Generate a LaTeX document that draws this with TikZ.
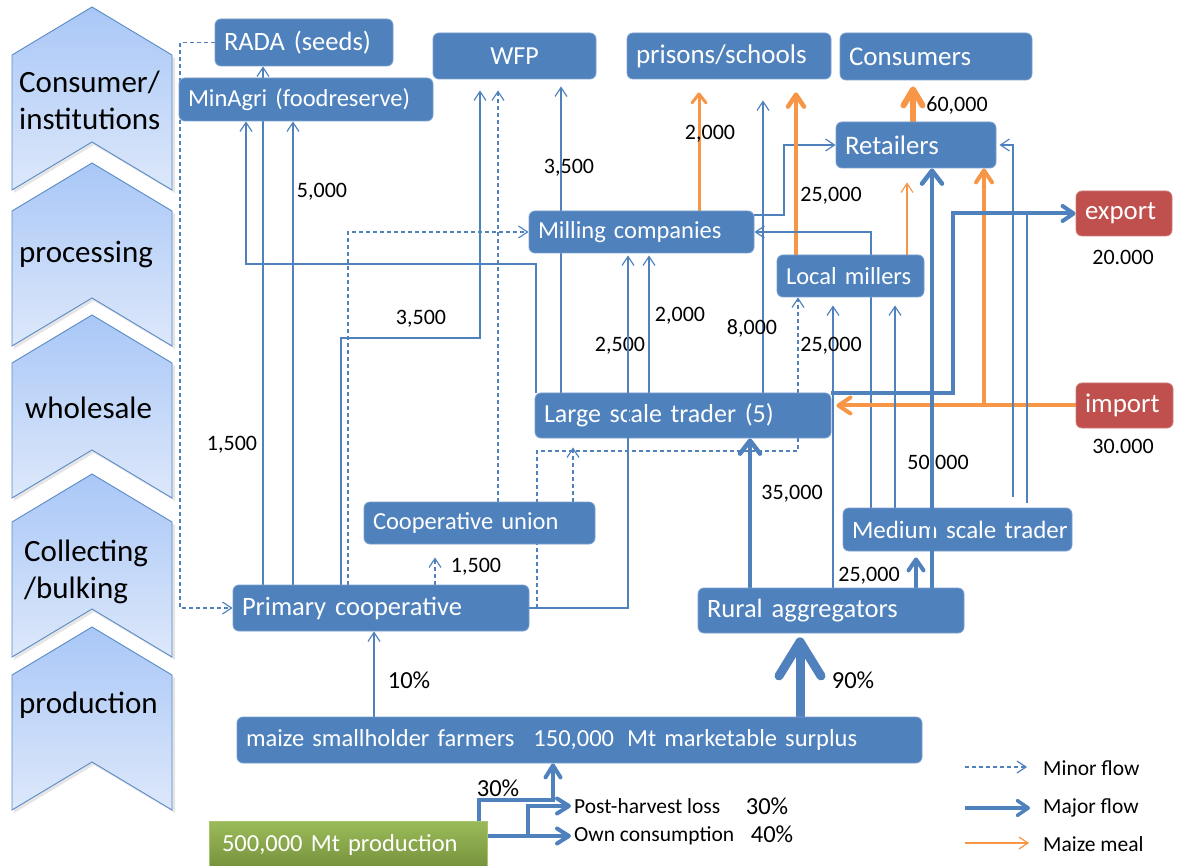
\documentclass[tikz,border=0pt]{standalone}
\usepackage{fontspec}
\setmainfont{Carlito}
\usetikzlibrary{arrows.meta,calc}

\definecolor{boxblue}{HTML}{4F81BD}
\definecolor{flowblue}{HTML}{4F81BD}
\definecolor{mealorange}{HTML}{F79646}
\definecolor{tradered}{HTML}{C0504D}
\definecolor{prodgreen}{HTML}{9BBB59}
\definecolor{prodgreendark}{HTML}{76923C}
\definecolor{chevtop}{HTML}{A9C7F7}
\definecolor{chevbottom}{HTML}{DDE8FA}
\definecolor{chevedge}{HTML}{5A8AC6}

\pgfdeclarelayer{background}
\pgfsetlayers{background,main}

\tikzset{
  fs/.style={font=\fontsize{#1}{#1}\selectfont},
  box/.style={rounded corners=6pt, fill=boxblue, draw=boxblue!75!white, line width=0.8pt,
    text=white, fs=24.5, inner xsep=9pt, inner ysep=0pt, align=left},
  centerbox/.style={box, align=center},
  redbox/.style={box, fill=tradered, draw=tradered!75!white},
  prodbox/.style={box, rounded corners=0pt, top color=prodgreen, bottom color=prodgreendark,
    draw=prodgreen!85!white},
  chev/.style={top color=chevtop, bottom color=chevbottom, draw=chevedge, line width=0.9pt},
  chevshadow/.style={fill=black, opacity=0.10},
  stage/.style={font=\fontsize{31}{37}\selectfont, align=left, anchor=west, inner sep=0pt},
  num/.style={fs=22, inner sep=0pt},
  side/.style={fs=21.5, inner sep=0pt, anchor=west},
  pct/.style={fs=24.5, inner sep=0pt},
  flowline/.style={draw=flowblue, line width=1.2pt},
  flow/.style={flowline, -{Straight Barb[length=9pt,width=12pt]}},
  minor/.style={flow, dash pattern=on 4pt off 3pt},
  major/.style={draw=flowblue, line width=4.5pt, -{Straight Barb[length=13pt,width=20pt,round]}},
  majorsmall/.style={draw=flowblue, line width=4pt, -{Straight Barb[length=11pt,width=15pt,round]}},
  majorhuge/.style={draw=flowblue, line width=9pt, -{Straight Barb[length=34pt,width=42pt,round]}},
  prodflow/.style={draw=flowblue, line width=4pt, -{Straight Barb[length=12pt,width=15pt,round]}},
  mealthin/.style={draw=mealorange, line width=1.2pt, -{Straight Barb[length=9pt,width=12pt]}},
  meal/.style={draw=mealorange, line width=3pt, -{Straight Barb[length=9pt,width=14pt,round]}},
  mealthick/.style={draw=mealorange, line width=4.5pt, -{Straight Barb[length=12pt,width=16pt,round]}},
  mealmax/.style={draw=mealorange, line width=6pt, -{Straight Barb[length=16pt,width=19pt,round]}},
}

% place a box from its corner coordinates (x1,y1)-(x2,y2)
\newcommand\placebox[7]{%
  \pgfmathsetmacro\boxW{#5-#3}%
  \pgfmathsetmacro\boxH{#6-#4}%
  \pgfmathsetmacro\boxT{#5-#3-18}%
  \pgfmathsetmacro\boxCX{(#3+#5)/2}%
  \pgfmathsetmacro\boxCY{(#4+#6)/2}%
  \node[#1, minimum width=\boxW pt, minimum height=\boxH pt, text width=\boxT pt] (#2) at (\boxCX,\boxCY) {#7};}

% one chevron of the stage column, given the y of its tip
\newcommand\stagechevron[1]{%
  \fill[chevshadow] (14,#1+51) -- (94,#1+3) -- (175,#1+51) -- (175,#1+186) -- (94,#1+138) -- (14,#1+186) -- cycle;
  \path[chev] (12,#1+48) -- (92,#1) -- (172,#1+48) -- (172,#1+183) -- (92,#1+135) -- (12,#1+183) -- cycle;}

\begin{document}
\begin{tikzpicture}[x=1pt,y=-1pt]
\useasboundingbox (0,0) rectangle (1178,866);

% stage column
\stagechevron{7}
\stagechevron{163}
\stagechevron{315}
\stagechevron{474}
\stagechevron{627}
\node[stage] (stcons) at (19,100) {Consumer/\\institutions};
\node[stage] (stproc) at (19,255) {processing};
\node[stage] (stwhole) at (25,408) {wholesale};
\node[stage] (stcoll) at (24,572) {Collecting\\/bulking};
\node[stage] (stprod) at (19,705) {production};

% actors
\placebox{box, fs=26.5}{rada}{215}{19}{393}{66}{RADA (seeds)}
\placebox{box}{minagri}{179}{78}{433}{121}{MinAgri (foodreserve)}
\placebox{centerbox, fs=26}{wfp}{433}{33}{596}{79}{WFP}
\placebox{box, fs=27}{prisons}{627}{33}{831}{79}{prisons/schools}
\placebox{box, fs=27}{consumers}{840}{33}{1032}{80}{Consumers}
\placebox{box, fs=26.8}{retailers}{836}{122}{996}{168}{Retailers}
\placebox{redbox, fs=26.8}{export}{1076}{191}{1172}{236}{export}
\placebox{box}{milling}{529}{211}{754}{253}{Milling companies}
\placebox{box}{localm}{777}{255}{924}{297}{Local millers}
\placebox{box, fs=26}{lst}{535}{393}{831}{438}{Large scale trader (5)}
\placebox{redbox, fs=27}{import}{1076}{383}{1173}{428}{import}
\placebox{box, fs=25}{medium}{843}{508}{1072}{551}{\mbox{Medium scale trader}}
\placebox{box}{coopu}{364}{502}{595}{544}{Cooperative union}
\placebox{box, fs=26.5}{pcoop}{233}{585}{529}{631}{Primary cooperative}
\placebox{box, fs=26.5}{rural}{698}{588}{964}{633}{Rural aggregators}
\placebox{box}{farmers}{237}{717}{922}{763}{maize smallholder farmers\hspace{19pt}150,000\hspace{13pt}Mt marketable surplus}
\placebox{prodbox}{prod}{209}{821}{487}{868}{\hspace*{4pt}500,000 Mt production}

% flow quantities
\node[num] (q5000) at (322,192) {5,000};
\node[num] (q1500a) at (232,445) {1,500};
\node[num] (q3500a) at (421,319) {3,500};
\node[num] (q3500b) at (569,168) {3,500};
\node[num] (q2000a) at (710,134) {2,000};
\node[num] (q25000a) at (831,196) {25,000};
\node[num] (q60000) at (957,105) {60,000};
\node[num] (q2000b) at (680,316) {2,000};
\node[num] (q8000) at (752,328) {8,000};
\node[num] (q2500) at (620,346) {2,500};
\node[num] (q25000b) at (831,346) {25,000};
\node[num] (q20000) at (1123,257) {20.000};
\node[num] (q30000) at (1123,446) {30.000};
\node[num] (q50000) at (938,464) {50,000};
\node[num] (q35000) at (792,494) {35,000};
\node[num] (q1500b) at (476,567) {1,500};
\node[num] (q25000c) at (869,576) {25,000};
\node[pct] (p10) at (409,680) {10\%};
\node[pct] (p90) at (853,680) {90\%};
\node[pct] (p30a) at (498,788) {30\%};
\node[side] (postloss) at (574,806) {Post-harvest loss};
\node[side] (owncons) at (574,836) {Own consumption};
\node[pct] (p30b) at (767,806) {30\%};
\node[pct] (p40) at (772,834) {40\%};

% legend
\node[side] (lgminor) at (1043,768) {Minor flow};
\node[side] (lgmajor) at (1043,808) {Major flow};
\node[side] (lgmeal) at (1043,844) {Maize meal};
\coordinate (lgminorstart) at (965,767);
\coordinate (lgmajorstart) at (965,808);
\coordinate (lgmealstart) at (965,843);
\draw[minor, shorten >=16pt] (lgminorstart) -- (lgminorstart -| lgminor.west);
\draw[majorsmall, line width=3.5pt, shorten >=13pt] (lgmajorstart) -- (lgmajorstart -| lgmajor.west);
\draw[mealthin, shorten >=14pt] (lgmealstart) -- (lgmealstart -| lgmeal.west);

\begin{pgfonlayer}{background}
% institutions
\draw[minor] (rada.west) -| (180,0 |- pcoop.west) -- (pcoop.west);
\draw[flow] (263,0 |- pcoop.north) -- (263,0 |- rada.south);
\draw[flow] (293,0 |- pcoop.north) -- (293,0 |- minagri.south);
\draw[flow] (536,0 |- lst.north) -- (536,264) -| (246,0 |- minagri.south);
\draw[minor] (348,0 |- pcoop.north) |- (milling.west);
\draw[flow, shorten >=11pt] (341,0 |- pcoop.north) -- (341,338) -| (480,0 |- wfp.south);
\draw[minor, shorten >=11pt] (498,0 |- coopu.north) -- (498,0 |- wfp.south);
\draw[flow, shorten >=7pt] (561,0 |- lst.north) -- (561,0 |- wfp.south);
\draw[flow, shorten >=21pt] (763,0 |- lst.north) -- (763,0 |- prisons.south);
% processing
\draw[meal, shorten >=13pt] (699,0 |- milling.north) -- (699,0 |- prisons.south);
\draw[flow] (milling.east |- 0,215) -| (784,0 |- retailers.west) -- (retailers.west);
\draw[mealthick, shorten >=13pt] (796,0 |- localm.north) -- (796,0 |- prisons.south);
\draw[mealmax, shorten >=6pt] (913,0 |- retailers.north) -- (913,0 |- consumers.south);
\draw[flow] (871,0 |- medium.north) |- (milling.east);
\draw[mealthin, shorten >=14pt] (907,0 |- localm.north) -- (907,0 |- retailers.south);
% wholesale
\draw[mealthick, line width=4pt, shorten >=5pt] (import.west) -- (lst.east |- import.west);
\draw[mealthick, line width=4pt] (984,0 |- import.west) -- (984,0 |- retailers.south);
\draw[majorsmall] (lst.north east) -- (953,0 |- lst.north east) |- (export.west);
\draw[flow, shorten <=11pt, shorten >=3pt] (1013,0 |- medium.north) |- (retailers.east);
\draw[flowline, shorten <=5pt] (1027,0 |- medium.north) -- (1027,0 |- export.west);
\draw[flow, shorten >=8pt] (895,0 |- medium.north) -- (895,0 |- localm.south);
\draw[flow, shorten >=2pt] (649,0 |- lst.north) -- (649,0 |- milling.south);
% collecting
\draw[minor, shorten >=9pt] (573,0 |- coopu.north) -- (573,0 |- lst.south);
\draw[minor] (537,0 |- pcoop.east) -- (537,451) -| (798,0 |- localm.south);
\draw[flow, shorten >=8pt] (833,0 |- rural.north) -- (833,0 |- localm.south);
\draw[majorsmall, shorten >=6pt] (916,0 |- rural.north) -- (916,0 |- medium.south);
\draw[major] (750,0 |- rural.north) -- (750,0 |- lst.south);
\draw[minor, shorten >=13pt] (435,0 |- pcoop.north) -- (435,0 |- coopu.south);
% production
\draw[majorhuge, shorten >=4pt] (800,0 |- farmers.north) -- (800,0 |- rural.south);
\draw[flow] (374,0 |- farmers.north) -- (374,0 |- pcoop.south);
\draw[prodflow] (479,0 |- prod.north) |- (553,800) -- (553,0 |- farmers.south);
\draw[prodflow, shorten >=3pt] (prod.east |- 0,836) -- (owncons.west);
\draw[prodflow, shorten >=3pt] (528,836) |- (postloss.west);
\end{pgfonlayer}

% flows that run across the boxes
\draw[flow, shorten >=2pt] (pcoop.east) -| (628,0 |- milling.south);
\draw[major] (932,0 |- rural.north) -- (932,0 |- retailers.south);
\end{tikzpicture}
\end{document}
